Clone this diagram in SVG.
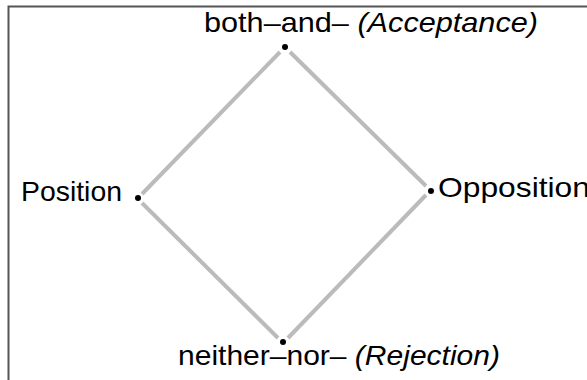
<svg xmlns="http://www.w3.org/2000/svg" width="587" height="380" viewBox="0 0 587 380">
<style>
.t{font-family:"Liberation Sans",Arial,sans-serif;font-size:28px;fill:#000}
.i{font-style:italic}
.e{stroke:#bbbbbb;stroke-width:4;fill:none;stroke-linecap:butt}
.d{fill:#000}
</style>
<rect x="0" y="0" width="587" height="380" fill="#fff"/>
<path d="M8.5,380 V6.5 H587" fill="none" stroke="#555" stroke-width="2"/>
<g id="connectors">
<line class="e" x1="280" y1="52" x2="142" y2="194"/>
<line class="e" x1="290" y1="52" x2="426" y2="186"/>
<line class="e" x1="142" y1="203" x2="278" y2="338"/>
<line class="e" x1="426" y1="195" x2="288" y2="338"/>
</g>
<g id="top"><circle class="d" cx="285" cy="47" r="3"/><text class="t" x="204" y="32" textLength="334" lengthAdjust="spacingAndGlyphs">both–and– <tspan class="i">(Acceptance)</tspan></text></g>
<g id="left"><circle class="d" cx="138" cy="198" r="3"/><text class="t" x="21" y="201" textLength="101" lengthAdjust="spacingAndGlyphs">Position</text></g>
<g id="right"><circle class="d" cx="431" cy="191" r="3"/><text class="t" x="438" y="197" textLength="152" lengthAdjust="spacingAndGlyphs">Opposition</text></g>
<g id="bottom"><circle class="d" cx="283" cy="342" r="3"/><text class="t" x="178" y="365" textLength="322" lengthAdjust="spacingAndGlyphs">neither–nor–  <tspan class="i">(Rejection)</tspan></text></g>
</svg>
